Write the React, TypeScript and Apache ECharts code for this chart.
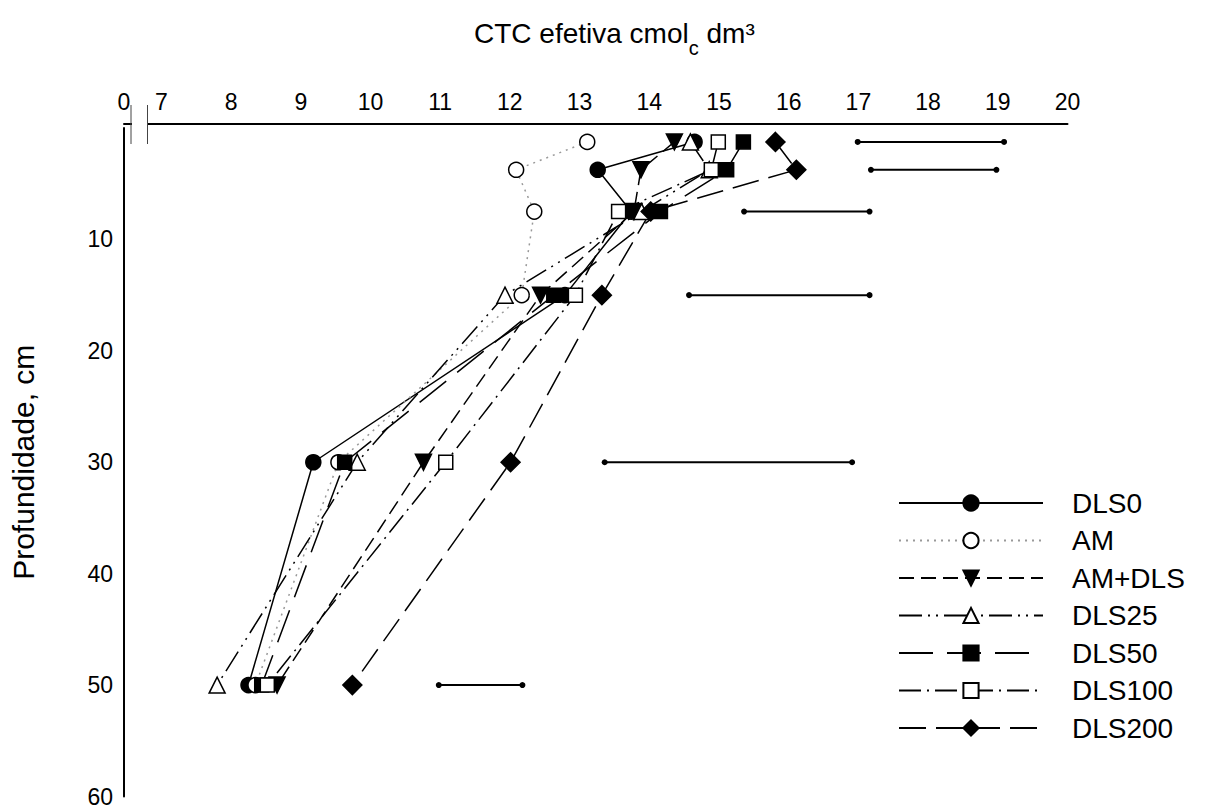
import React, { useEffect, useRef } from 'react';
import * as echarts from 'echarts';

const FONT = '"Liberation Sans", Arial, sans-serif';

// depth (cm) of each layer midpoint
const depths = [1.25, 3.75, 7.5, 15, 30, 50];
// x-axis tick values (the axis is broken between 0 and 7)
const xTicks = [7, 8, 9, 10, 11, 12, 13, 14, 15, 16, 17, 18, 19, 20];
const xBreakMin = 6.464; // position labelled "0"
const yTicks = [10, 20, 30, 40, 50, 60];

// CTC efetiva values for each treatment, by depth
const DLS0 = [14.65, 13.26, 13.74, 12.79, 9.18, 8.25];
const AM = [13.11, 12.09, 12.35, 12.17, 9.54, 8.35];
const AM_DLS = [14.36, 13.88, 13.78, 12.44, 10.76, 8.66];
const DLS25 = [14.59, 14.86, 13.89, 11.93, 9.81, 7.8];
const DLS50 = [15.35, 15.11, 14.16, 12.63, 9.63, 8.44];
const DLS100 = [14.99, 14.89, 13.56, 12.94, 11.08, 8.52];
const DLS200 = [15.81, 16.11, 14.02, 13.32, 12.01, 9.74];

// horizontal bars (DMS) at each depth
const barLow = [16.99, 17.18, 15.36, 14.57, 13.36, 10.98];
const barHigh = [19.09, 18.98, 17.16, 17.16, 16.91, 12.18];

const seriesDefs = [
  { name: 'DLS0', values: DLS0, symbol: 'circle', size: 15, filled: true, dash: 'solid' as any, color: '#000', rotate: 0 },
  { name: 'AM', values: AM, symbol: 'circle', size: 15, filled: false, dash: [2, 5], color: '#999', rotate: 0 },
  { name: 'AM+DLS', values: AM_DLS, symbol: 'triangle', size: 16, filled: true, dash: [15, 7], color: '#000', rotate: 180 },
  { name: 'DLS25', values: DLS25, symbol: 'triangle', size: 16, filled: false, dash: [23, 6, 2, 6, 2, 6], color: '#000', rotate: 0 },
  { name: 'DLS50', values: DLS50, symbol: 'rect', size: 14, filled: true, dash: [34, 14], color: '#000', rotate: 0 },
  { name: 'DLS100', values: DLS100, symbol: 'rect', size: 14, filled: false, dash: [22, 6, 2, 6], color: '#000', rotate: 0 },
  { name: 'DLS200', values: DLS200, symbol: 'diamond', size: 19, filled: true, dash: [27, 10], color: '#000', rotate: 0 },
];

export default function App() {
  const ref = useRef<HTMLDivElement>(null);
  useEffect(() => {
    if (!ref.current) return;
    const chart = echarts.init(ref.current, null, { renderer: 'svg' });
    const lineSeries = seriesDefs.map((s) => ({
      name: s.name,
      type: 'line',
      data: s.values.map((v, i) => [v, depths[i]]),
      symbol: s.symbol,
      symbolSize: s.size,
      symbolRotate: s.rotate,
      showAllSymbol: true,
      lineStyle: { color: s.color, width: 1.5, type: s.dash },
      itemStyle: {
        color: s.filled ? '#000' : '#fff',
        borderColor: '#000',
        borderWidth: 1.5,
      },
      emphasis: { disabled: true },
      z: 3,
    }));
    const barSeries = {
      name: 'bars',
      type: 'custom',
      data: depths.map((d, i) => [barLow[i], barHigh[i], d]),
      encode: { x: [0, 1], y: 2 },
      silent: true,
      z: 2,
      renderItem: (params: any, api: any) => {
        const p1 = api.coord([api.value(0), api.value(2)]);
        const p2 = api.coord([api.value(1), api.value(2)]);
        return {
          type: 'group',
          children: [
            { type: 'line', shape: { x1: p1[0], y1: p1[1], x2: p2[0], y2: p2[1] }, style: { stroke: '#000', lineWidth: 2 } },
            { type: 'circle', shape: { cx: p1[0], cy: p1[1], r: 3 }, style: { fill: '#000' } },
            { type: 'circle', shape: { cx: p2[0], cy: p2[1], r: 3 }, style: { fill: '#000' } },
          ],
        };
      },
    };
    chart.setOption({
      animation: false,
      backgroundColor: '#fff',
      textStyle: { fontFamily: FONT },
      title: {
        text: 'CTC efetiva cmol{sub|c} dm³',
        left: 474,
        top: 19,
        padding: 0,
        textStyle: {
          fontSize: 28,
          fontWeight: 'normal',
          fontFamily: FONT,
          color: '#000',
          lineHeight: 28,
          rich: {
            sub: { fontSize: 20, fontFamily: FONT, color: '#000', lineHeight: 20, padding: [30, 0, 0, 0] },
          },
        },
      },
      grid: { left: 120, right: 137.5, top: 128, bottom: 8 },
      xAxis: {
        type: 'value',
        position: 'top',
        offset: 4,
        min: xBreakMin,
        max: 20,
        splitLine: { show: false },
        axisTick: { show: false },
        axisLine: { show: true, onZero: false, lineStyle: { color: '#000', width: 2 } },
        axisLabel: {
          customValues: [xBreakMin, ...xTicks],
          showMinLabel: true,
          showMaxLabel: true,
          fontSize: 23,
          color: '#000',
          fontFamily: FONT,
          margin: 11,
          formatter: (v: number) => (v < 7 ? '0' : String(Math.round(v))),
        },
      },
      yAxis: {
        type: 'value',
        inverse: true,
        min: 0,
        max: 60,
        interval: 10,
        splitLine: { show: false },
        axisTick: { show: false },
        axisLine: { show: true, onZero: false, lineStyle: { color: '#000', width: 2 } },
        axisLabel: {
          customValues: yTicks,
          fontSize: 23,
          color: '#000',
          fontFamily: FONT,
          margin: 11,
        },
        name: 'Profundidade, cm',
        nameLocation: 'middle',
        nameGap: 86,
        nameTextStyle: { fontSize: 30, color: '#000', fontFamily: FONT },
      },
      legend: {
        orient: 'vertical',
        left: 893,
        top: 484,
        itemWidth: 144,
        itemHeight: 19,
        itemGap: 9.5,
        data: seriesDefs.map((s) => s.name),
        selectedMode: false,
        textStyle: { fontSize: 28, color: '#000', fontFamily: FONT, padding: [0, 0, 0, 24] },
      },
      graphic: [
        { type: 'rect', shape: { x: 132, y: 119, width: 15, height: 9 }, style: { fill: '#fff' }, z: 100 },
        { type: 'line', shape: { x1: 131, y1: 105, x2: 131, y2: 144 }, style: { stroke: '#444', lineWidth: 1 }, z: 101 },
        { type: 'line', shape: { x1: 147.5, y1: 105, x2: 147.5, y2: 144 }, style: { stroke: '#444', lineWidth: 1 }, z: 101 },
      ],
      series: [barSeries, ...lineSeries],
    });
    return () => chart.dispose();
  }, []);
  return <div ref={ref} style={{ position: 'fixed', left: 0, top: 0, width: 1205, height: 808 }} />;
}
